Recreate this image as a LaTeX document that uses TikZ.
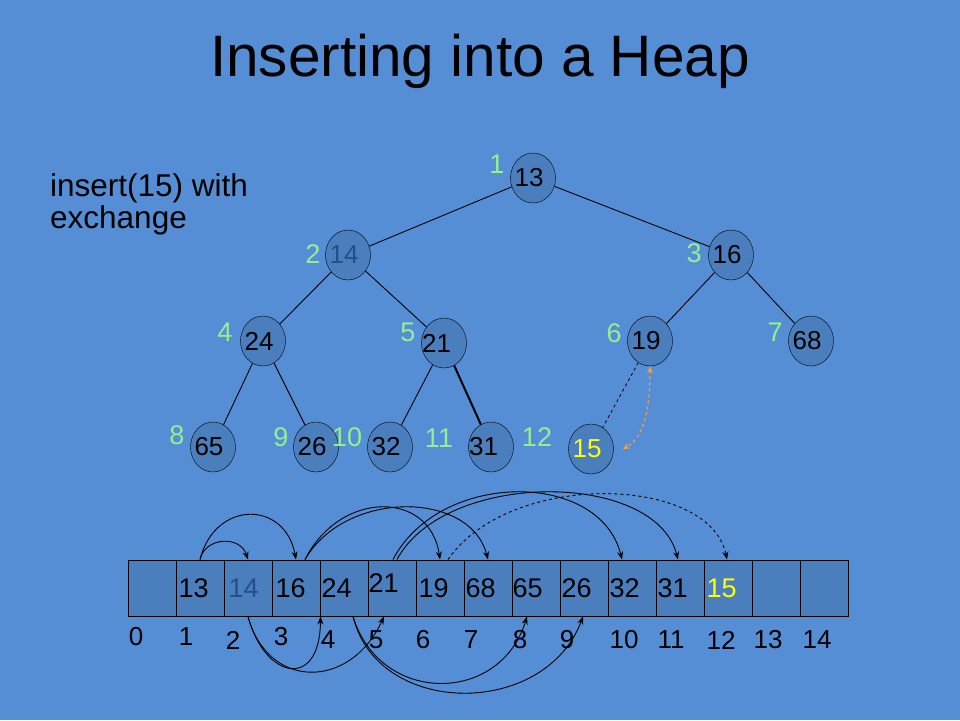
\documentclass[tikz,border=0pt]{standalone}
\usepackage{fontspec}
\setmainfont{Liberation Sans}
\usetikzlibrary{shapes.geometric,arrows.meta}
\definecolor{bg}{RGB}{85,142,213}
\definecolor{nodefill}{RGB}{74,126,189}
\definecolor{idxgreen}{RGB}{146,240,146}
\definecolor{darkblu}{RGB}{38,78,135}
\definecolor{arrorange}{RGB}{240,160,60}
\definecolor{hiyellow}{RGB}{255,255,0}
\tikzset{
  hnode/.style={ellipse,draw=black,fill=nodefill,minimum width=45pt,minimum height=50pt,inner sep=0pt,font=\fontsize{26}{26}\selectfont,execute at begin node={\hspace*{-8pt}}},
  hnodefar/.style={hnode,execute at begin node={\hspace*{-7pt}}},
  idx/.style={text=idxgreen,inner sep=0pt,font=\fontsize{27}{27}\selectfont},
  cell/.style={draw=black,fill=nodefill,minimum width=48pt,minimum height=56pt,inner sep=0pt,line width=1pt},
  val/.style={anchor=west,inner sep=0pt,font=\fontsize{27}{27}\selectfont},
  aidx/.style={inner sep=0pt,font=\fontsize{26}{26}\selectfont},
  edge/.style={draw=black,line width=0.9pt},
  arc/.style={draw=black,line width=0.9pt,-{Stealth[length=8pt,width=6pt]}},
}
\begin{document}
\begin{tikzpicture}[x=1pt,y=-1pt]
\fill[bg] (0,0) rectangle (960,720);
\useasboundingbox (0,0) rectangle (960,720);
% title
\node[inner sep=0pt,anchor=base,font=\fontsize{58.5}{58.5}\selectfont] (title) at (480,76) {Inserting into a Heap};
\node[inner sep=0pt,anchor=base west,align=left,font=\fontsize{31.5}{32}\selectfont] (sub) at (50,228) {insert(15) with\\exchange};
% tree nodes
\node[hnode] (n1) at (533,178) {13};
\node[hnode,text=darkblu] (n2) at (348,255) {14};
\node[hnode] (n3) at (731,255) {16};
\node[hnode] (n4) at (263,341) {24};
\node[hnodefar] (n5) at (444,343) {21};
\node[hnode] (n6) at (650,341) {19};
\node[hnode] (n7) at (811,341) {68};
\node[hnode] (n8) at (213,447) {65};
\node[hnode] (n9) at (316,447) {26};
\node[hnode] (n10) at (390,447) {32};
\node[hnodefar] (n11) at (491,447) {31};
\node[hnode,text=hiyellow] (n12) at (591,449) {15};
% tree edges
\draw[edge] (n1) -- (n2);
\draw[edge] (n1) -- (n3);
\draw[edge] (n2) -- (n4);
\draw[edge] (n2) -- (n5);
\draw[edge] (n4) -- (n8);
\draw[edge] (n4) -- (n9);
\draw[edge] (n5) -- (n10);
\draw[edge,line width=2pt] (n5) -- (n11);
\draw[edge] (n3) -- (n6);
\draw[edge] (n3) -- (n7);
\draw[edge,dashed,line width=0.8pt] (n6) -- (n12);
\draw[draw=arrorange,dashed,line width=1.2pt,{Stealth[length=7pt,width=6pt]}-{Stealth[length=7pt,width=6pt]}] (n6.south) .. controls (650,420) and (640,440) .. ([xshift=9pt]n12.east);
% green indices
\node[idx] (i1) at (497,164) {1};
\node[idx] (i2) at (313,254) {2};
\node[idx] (i3) at (694,253) {3};
\node[idx] (i4) at (225,332) {4};
\node[idx] (i5) at (408,332) {5};
\node[idx] (i6) at (614,333) {6};
\node[idx] (i7) at (775,332) {7};
\node[idx] (i8) at (177,435) {8};
\node[idx] (i9) at (281,437) {9};
\node[idx] (i10) at (347,437) {10};
\node[idx] (i11) at (439,438) {11};
\node[idx] (i12) at (537,437) {12};
% array cells
\foreach \i in {0,...,14} {
  \node[cell] (c\i) at ({152+48*\i},588) {};
}
\node[val] (v1) at ([xshift=3pt]c1.west) {13};
\node[val,text=darkblu] (v2) at ([xshift=5pt]c2.west) {14};
\node[val] (v3) at ([xshift=4pt]c3.west) {16};
\node[val] (v4) at ([xshift=2pt]c4.west) {24};
\node[val] (v5) at ([xshift=1pt,yshift=5pt]c5.west) {21};
\node[val] (v6) at ([xshift=3pt]c6.west) {19};
\node[val] (v7) at ([xshift=2pt]c7.west) {68};
\node[val] (v8) at ([xshift=1pt]c8.west) {65};
\node[val] (v9) at ([xshift=2pt]c9.west) {26};
\node[val] (v10) at ([xshift=2pt]c10.west) {32};
\node[val] (v11) at ([xshift=2pt]c11.west) {31};
\node[val,text=hiyellow] (v12) at ([xshift=3pt]c12.west) {15};
% array indices
\node[aidx] (a0) at (136,637) {0};
\node[aidx] (a1) at (186,637) {1};
\node[aidx] (a2) at (233,640) {2};
\node[aidx] (a3) at (281,637) {3};
\node[aidx] (a4) at (328,640) {4};
\node[aidx] (a5) at (376,640) {5};
\node[aidx] (a6) at (423,640) {6};
\node[aidx] (a7) at (471,640) {7};
\node[aidx] (a8) at (520,640) {8};
\node[aidx] (a9) at (567,640) {9};
\node[aidx] (a10) at (624,640) {10};
\node[aidx] (a11) at (671,640) {11};
\node[aidx] (a12) at (721,640) {12};
\node[aidx] (a13) at (768,640) {13};
\node[aidx] (a14) at (817,640) {14};
% top arcs
\draw[arc] (c1.north) .. controls (205,537) and (240,535) .. (c2.north);
\draw[arc] (c1.north) .. controls (215,500) and (285,500) .. (c3.north);
\draw[arc] ([xshift=9pt]c3.north) .. controls (340,490) and (430,490) .. (c6.north);
\draw[arc] ([xshift=9pt]c3.north) .. controls (345,490) and (470,490) .. (c7.north);
\draw[arc] ([xshift=1pt]c5.north) .. controls (440,470) and (600,470) .. ([xshift=-10pt]c10.north);
\draw[arc] ([xshift=5pt]c5.north) .. controls (445,470) and (655,470) .. ([xshift=-2pt]c11.north);
\draw[arc,dashed] ([xshift=8pt]c6.north) .. controls (510,470) and (710,475) .. ([xshift=-1pt]c12.north);
% bottom arcs
\draw[arc] (c2.south) .. controls (265,680) and (320,690) .. ([xshift=1pt]c4.south west);
\draw[arc] (c2.south) .. controls (268,690) and (350,690) .. ([xshift=-8pt]c5.south);
\draw[arc] ([xshift=9pt]c4.south) .. controls (380,705) and (500,705) .. ([xshift=-9pt]c8.south);
\draw[arc] ([xshift=9pt]c4.south) .. controls (378,718) and (545,718) .. ([xshift=-1pt]c9.south);
\end{tikzpicture}
\end{document}
